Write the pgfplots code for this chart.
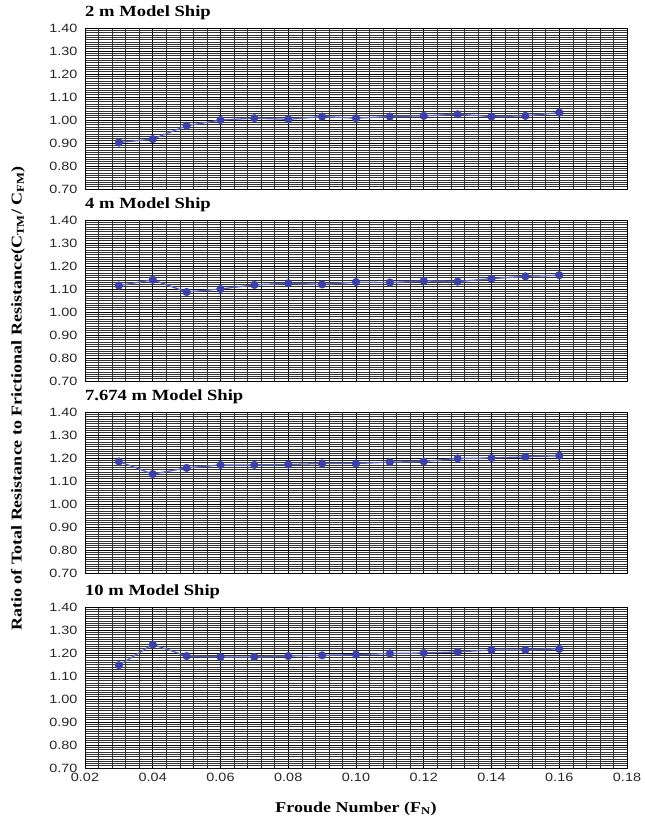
\documentclass[border=0pt]{standalone}
\usepackage{fontspec}
\setmainfont{Liberation Serif}[FakeStretch=1.2]
\setsansfont{Liberation Sans}[FakeStretch=1.2]
\usepackage{pgfplots}
\pgfplotsset{compat=1.18}
\definecolor{mk}{HTML}{3A40A8}
\definecolor{ln}{HTML}{5A64C4}
\pgfplotsset{
 panel/.style={
  scale only axis, width=542pt, height=161pt,
  xmin=0.02, xmax=0.18, ymin=0.70, ymax=1.40,
  xtick={0.02,0.04,0.06,0.08,0.10,0.12,0.14,0.16,0.18},
  ytick={0.70,0.80,0.90,1.00,1.10,1.20,1.30,1.40},
  minor x tick num=4, minor y tick num=9,
  grid=both,
  major grid style={black, line width=0.7pt},
  minor grid style={black!80, line width=0.45pt},
  tick style={draw=none},
  axis line style={black, line width=0.9pt},
  /pgf/number format/assume math mode=true,
  tick label style={font=\sffamily\fontsize{12}{14}\selectfont, text=black!85},
  yticklabel style={/pgf/number format/fixed, /pgf/number format/fixed zerofill, /pgf/number format/precision=2, xshift=-4pt},
  xticklabel style={/pgf/number format/fixed, /pgf/number format/fixed zerofill, /pgf/number format/precision=2, yshift=-2pt},
  title style={at={(0,1)}, anchor=base west, yshift=6pt, inner sep=0pt, font=\bfseries\fontsize{15.5}{18}\selectfont},
 },
 ser/.style={draw=ln, line width=1.3pt, mark=*, mark size=3.9pt, mark options={fill=mk, draw=mk, line width=0.3pt}},
}
\begin{document}
\begin{tikzpicture}
\begin{axis}[panel, set layers, at={(0pt,0pt)}, anchor=north west, title={2 m Model Ship}, xticklabel=\empty]
\addplot[ser] coordinates {(0.03,0.902) (0.04,0.917) (0.05,0.975) (0.06,1.000) (0.07,1.008) (0.08,1.003) (0.09,1.015) (0.10,1.008) (0.11,1.015) (0.12,1.018) (0.13,1.025) (0.14,1.015) (0.15,1.018) (0.16,1.032)};
\end{axis}
\begin{axis}[panel, set layers, at={(0pt,-192pt)}, anchor=north west, title={4 m Model Ship}, xticklabel=\empty]
\addplot[ser] coordinates {(0.03,1.115) (0.04,1.140) (0.05,1.087) (0.06,1.100) (0.07,1.118) (0.08,1.125) (0.09,1.120) (0.10,1.130) (0.11,1.128) (0.12,1.135) (0.13,1.132) (0.14,1.145) (0.15,1.155) (0.16,1.160)};
\end{axis}
\begin{axis}[panel, set layers, at={(0pt,-384pt)}, anchor=north west, title={7.674 m Model Ship}, xticklabel=\empty]
\addplot[ser] coordinates {(0.03,1.185) (0.04,1.130) (0.05,1.157) (0.06,1.170) (0.07,1.170) (0.08,1.172) (0.09,1.176) (0.10,1.176) (0.11,1.182) (0.12,1.185) (0.13,1.198) (0.14,1.200) (0.15,1.205) (0.16,1.210)};
\end{axis}
\begin{axis}[panel, set layers, at={(0pt,-579pt)}, anchor=north west, title={10 m Model Ship}]
\addplot[ser] coordinates {(0.03,1.147) (0.04,1.237) (0.05,1.187) (0.06,1.183) (0.07,1.183) (0.08,1.187) (0.09,1.190) (0.10,1.193) (0.11,1.198) (0.12,1.200) (0.13,1.205) (0.14,1.213) (0.15,1.213) (0.16,1.218)};
\end{axis}
\node[rotate=90, font=\bfseries\fontsize{15}{18}\selectfont, inner sep=0pt] at (-67pt,-370.5pt) {Ratio of Total Resistance to Frictional Resistance(C\textsubscript{TM}/ C\textsubscript{FM})};
\node[anchor=base, font=\bfseries\fontsize{15}{18}\selectfont, inner sep=0pt] at (271pt,-784pt) {Froude Number (F\textsubscript{N})};
\path (-85pt,28pt) rectangle (558pt,-794pt);
\end{tikzpicture}
\end{document}
